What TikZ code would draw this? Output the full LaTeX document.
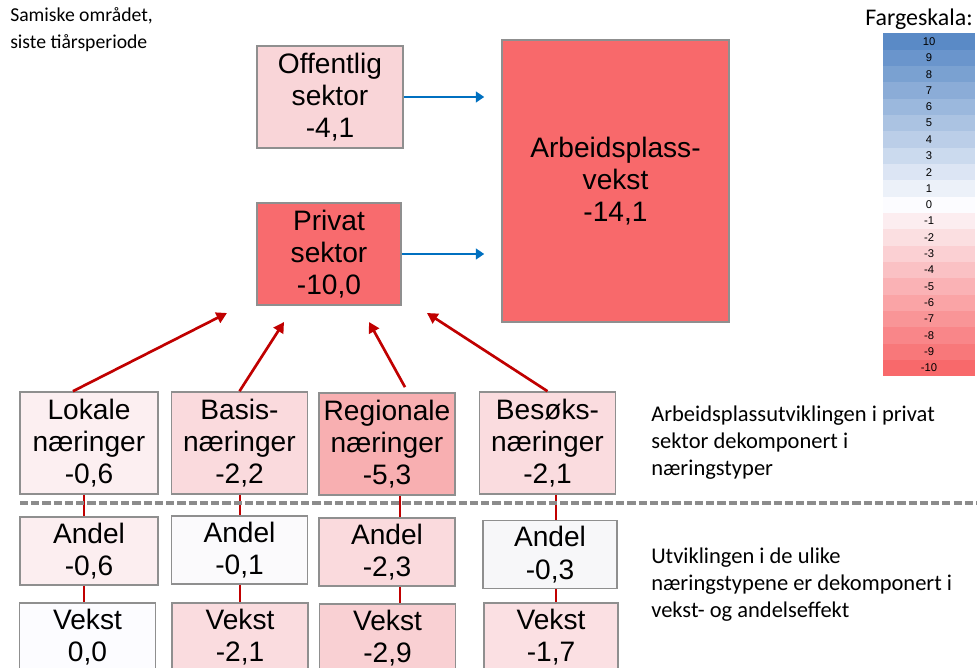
\documentclass[tikz,border=0pt]{standalone}
\usepackage{fontspec}
\setmainfont{Liberation Sans}
\newfontfamily\calibrifont{Carlito}
\usepackage{tikz}
\usetikzlibrary{arrows, arrows.meta}

\definecolor{boxgray}{HTML}{8F8F8F}
\definecolor{dashgray}{HTML}{8C8C8C}
\definecolor{arrowblue}{HTML}{0070C0}
\definecolor{linkred}{HTML}{C00000}
\definecolor{scaleblue}{HTML}{5A8AC6}
\definecolor{scalewhite}{HTML}{FCFCFF}
\definecolor{scalered}{HTML}{F8696B}
\definecolor{offfill}{HTML}{F9D5D8}
\definecolor{privfill}{HTML}{F86B6E}
\definecolor{arbfill}{HTML}{F8696B}
\definecolor{lokfill}{HTML}{FCEFF1}
\definecolor{basfill}{HTML}{FADADD}
\definecolor{regfill}{HTML}{F8AFB1}
\definecolor{besfill}{HTML}{FADCDF}
\definecolor{lokAfill}{HTML}{FCEEF0}
\definecolor{basAfill}{HTML}{FBFAFC}
\definecolor{regAfill}{HTML}{FADADD}
\definecolor{besAfill}{HTML}{F7F7F9}
\definecolor{lokVfill}{HTML}{FCFCFF}
\definecolor{basVfill}{HTML}{FADCDF}
\definecolor{regVfill}{HTML}{F9D0D3}
\definecolor{besVfill}{HTML}{FBE0E3}

\begin{document}
\begin{tikzpicture}[
                x=0.025cm, y=-0.025cm, % one unit is one pixel of the sketch
                box/.style={draw=boxgray, line width=1.1pt, align=center, inner sep=0pt, font=\fontsize{20}{23}\selectfont}, % Box with a value
                kind/.style={box, minimum width=3.4cm, minimum height=2.55cm}, % Industry type
                part/.style={box, minimum width=3.4cm, minimum height=1.7cm}, % Share and growth
                note/.style={align=left, inner sep=0pt, anchor=north west, font=\calibrifont\fontsize{16}{19.2}\selectfont}, % Side text
                cell/.style={minimum width=2.3cm, minimum height=0.41cm, inner sep=0pt, font=\fontsize{8}{9}\selectfont}, % Colour scale row
                flow/.style={-{Triangle[length=6pt, width=7.5pt]}, line width=1.6pt, color=arrowblue, shorten >=12pt}, % Blue arrow
                push/.style={-{Triangle[length=7.5pt, width=8pt]}, line width=1.9pt, color=linkred}, % Red arrow
                link/.style={line width=1.6pt, color=linkred} % Red line
                ]
\clip (0,0) rectangle (977,668);

% upper part
\node[box, minimum width=3.65cm, minimum height=2.55cm, fill=offfill] (off) at (330,97) {Offentlig\\sektor\\-4,1};
\node[box, minimum width=3.6cm, minimum height=2.55cm, fill=privfill] (priv) at (329,254) {Privat\\sektor\\-10,0};
\node[box, minimum width=5.675cm, minimum height=7.05cm, fill=arbfill] (arb) at (615.5,181) {Arbeidsplass-\\vekst\\-14,1};

\draw[flow] (off.east) -- (arb.west |- off.east);
\draw[flow] (priv.east) -- (arb.west |- priv.east);

% industry types
\node[kind, minimum width=3.45cm, fill=lokfill] (lok) at (89,443) {Lokale\\næringer\\-0,6};
\node[kind, fill=basfill] (bas) at (239.5,443) {Basis-\\næringer\\-2,2};
\node[kind, fill=regfill] (reg) at (387,444) {Regionale\\næringer\\-5,3};
\node[kind, fill=besfill] (bes) at (547.5,443) {Besøks-\\næringer\\-2,1};

\coordinate (tipLok) at (227,313);
\coordinate (tipBas) at (284,322);
\coordinate (tipReg) at (369,322);
\coordinate (tipBes) at (427,313);
\draw[push] ([xshift=-11.4pt]lok.north) -- (tipLok);
\draw[push] (bas.north) -- (tipBas);
\draw[push] ([xshift=12.8pt, yshift=3.6pt]reg.north) -- (tipReg);
\draw[push] (bes.north) -- (tipBes);

% share and growth
\node[part, minimum width=3.45cm, fill=lokAfill] (lokA) at (89,551) {Andel\\-0,6};
\node[part, fill=basAfill] (basA) at (239.5,550) {Andel\\-0,1};
\node[part, fill=regAfill] (regA) at (387,552) {Andel\\-2,3};
\node[part, minimum width=3.35cm, fill=besAfill] (besA) at (550,554.5) {Andel\\-0,3};

\node[part, fill=lokVfill] (lokV) at (87.5,637) {Vekst\\0,0};
\node[part, fill=basVfill] (basV) at (240,637) {Vekst\\-2,1};
\node[part, fill=regVfill] (regV) at (387.5,638) {Vekst\\-2,9};
\node[part, minimum width=3.35cm, fill=besVfill] (besV) at (551,637) {Vekst\\-1,7};

\foreach \n/\x in {lok/84, bas/240, reg/400, bes/556}{
  \coordinate (\n L) at (\x,0);
  \draw[link] (\n.south -| \n L) -- (\n A.north -| \n L);
  \draw[link] (\n A.south -| \n L) -- (\n V.north -| \n L);
}

\draw[dashgray, line width=2.4pt, dash pattern=on 5.7pt off 2.3pt] (20,503) -- (977,503);

% texts
\node[note, font=\calibrifont\fontsize{14}{19.2}\selectfont] (place) at (10,7) {Samiske området,\\siste tiårsperiode};
\node[note] (upper) at (651,406) {Arbeidsplassutviklingen i privat\\sektor dekomponert i\\næringstyper};
\node[note] (lower) at (651,548) {Utviklingen i de ulike\\næringstypene er dekomponert i\\vekst- og andelseffekt};

% colour scale
\node[note, font=\calibrifont\fontsize{17}{20}\selectfont] (scaletitle) at (865,9) {Fargeskala:};
\foreach \v in {1,...,10}{
  \pgfmathtruncatemacro{\p}{10*\v}
  \node[cell, fill=scaleblue!\p!scalewhite] (pos\v) at (929,{41.5+16.33*(10-\v)}) {\v};
  \node[cell, fill=scalered!\p!scalewhite] (neg\v) at (929,{41.5+16.33*(10+\v)}) {-\v};
}
\node[cell, fill=scalewhite] (zero) at (929,204.8) {0};
\end{tikzpicture}
\end{document}
